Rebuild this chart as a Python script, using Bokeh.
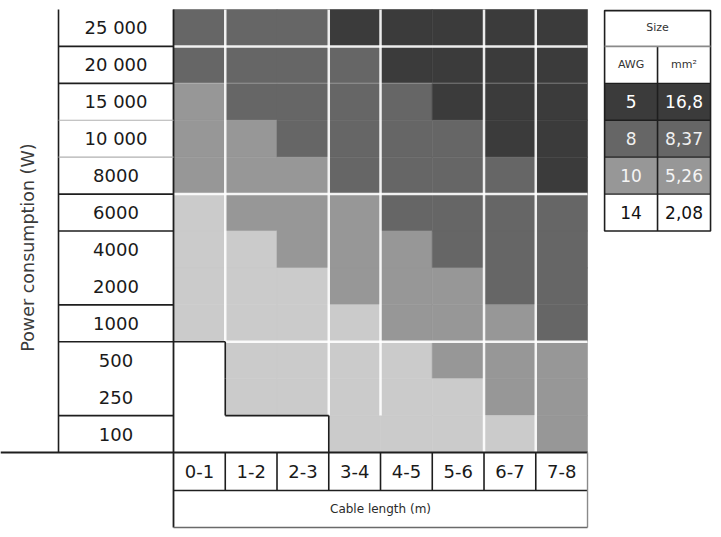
import numpy as np
from bokeh.plotting import figure
from bokeh.models import Range1d, ColumnDataSource
from bokeh.core.properties import value
from bokeh.embed import file_html
from bokeh.resources import INLINE

# ---------------- data ----------------
power_labels = ["25 000", "20 000", "15 000", "10 000", "8000", "6000",
                "4000", "2000", "1000", "500", "250", "100"]
length_labels = ["0-1", "1-2", "2-3", "3-4", "4-5", "5-6", "6-7", "7-8"]
# class per cell: 0 = 5 AWG, 1 = 8 AWG, 2 = 10 AWG, 3 = light grey, 4 = empty
gauge_rows = [
    [1, 1, 1, 0, 0, 0, 0, 0],
    [1, 1, 1, 1, 0, 0, 0, 0],
    [2, 1, 1, 1, 1, 0, 0, 0],
    [2, 2, 1, 1, 1, 1, 0, 0],
    [2, 2, 2, 1, 1, 1, 1, 0],
    [3, 2, 2, 2, 1, 1, 1, 1],
    [3, 3, 2, 2, 2, 1, 1, 1],
    [3, 3, 3, 2, 2, 2, 1, 1],
    [3, 3, 3, 3, 2, 2, 2, 1],
    [4, 3, 3, 3, 3, 2, 2, 2],
    [4, 3, 3, 3, 3, 3, 2, 2],
    [4, 4, 4, 3, 3, 3, 3, 2],
]
legend_awg = ["5", "8", "10", "14"]
legend_mm2 = ["16,8", "8,37", "5,26", "2,08"]
y_title = "Power consumption (W)"
x_title = "Cable length (m)"

# ---------------- styles ----------------
gauge_colors = ["#3b3b3b", "#666666", "#979797", "#cbcbcb", "#ffffff"]
legend_fill = ["#3b3b3b", "#666666", "#979797", "#ffffff"]
legend_text = ["#ffffff", "#f0f0f0", "#f4f4f4", "#111111"]
row_sep = ["dark", "dark", "light", "light", "dark", "dark", "none",
           "dark", "dark", "none", "dark"]
FONT = value("DejaVu Sans")
DARK = "#1e1e1e"

n_rows = len(power_labels)
n_cols = len(length_labels)

X0, X1 = -3.343, 10.473
Y0, Y1 = -2.113, 12.244
p = figure(width=715, height=530, output_backend="svg", toolbar_location=None,
           x_range=Range1d(X0, X1), y_range=Range1d(Y0, Y1),
           min_border=0, outline_line_color=None,
           x_axis_location=None, y_axis_location=None)
p.grid.visible = False
p.background_fill_color = "white"
p.border_fill_color = "white"

# ---------------- cells ----------------
cx, cy, cc = [], [], []
for r, row in enumerate(gauge_rows):
    for c, g in enumerate(row):
        cx.append(c + 0.5)
        cy.append(n_rows - 0.5 - r)
        cc.append(gauge_colors[g])
src = ColumnDataSource(dict(x=cx, y=cy, color=cc))
p.rect(x="x", y="y", width=1, height=1, fill_color="color",
       line_color="color", line_width=0.6, source=src)

# white separator lines inside the grid
vx = [1, 3, 4, 6, 7]
vy0 = [3, 1, 1, 0, 0]
p.segment(x0=vx, y0=vy0, x1=vx, y1=[n_rows] * len(vx),
          line_color="white", line_width=2.5, line_alpha=0.9)
hy = [11, 7, 3]
hx0 = [0, 0, 1]
p.segment(x0=hx0, y0=hy, x1=[n_cols] * len(hy), y1=hy,
          line_color="white", line_width=2.5, line_alpha=0.9)
p.segment(x0=[0], y0=[10], x1=[n_cols], y1=[10],
          line_color="white", line_width=1.5, line_alpha=0.2)

# black outline around the empty cells
sx0, sy0, sx1, sy1 = [], [], [], []
for r, row in enumerate(gauge_rows):
    for c, g in enumerate(row):
        if g != 4:
            continue
        top = n_rows - r
        bot = top - 1
        if r > 0 and gauge_rows[r - 1][c] != 4:
            sx0 += [c]; sy0 += [top]; sx1 += [c + 1]; sy1 += [top]
        if c + 1 < n_cols and row[c + 1] != 4:
            sx0 += [c + 1]; sy0 += [bot]; sx1 += [c + 1]; sy1 += [top]
p.segment(x0=sx0, y0=sy0, x1=sx1, y1=sy1, line_color=DARK, line_width=1.6)

# ---------------- row label column ----------------
lab_left = -2.222
p.segment(x0=[lab_left], y0=[0], x1=[lab_left], y1=[n_rows],
          line_color=DARK, line_width=1.6)
p.segment(x0=[0], y0=[-2.03], x1=[0], y1=[n_rows],
          line_color=DARK, line_width=1.8)
p.segment(x0=[X0], y0=[0], x1=[n_cols], y1=[0],
          line_color=DARK, line_width=1.8)
dy, ly = [], []
for i, s in enumerate(row_sep):
    yb = n_rows - 1 - i
    if s == "dark":
        dy.append(yb)
    elif s == "light":
        ly.append(yb)
p.segment(x0=[lab_left] * len(dy), y0=dy, x1=[0] * len(dy), y1=dy,
          line_color=DARK, line_width=1.6)
p.segment(x0=[lab_left] * len(ly), y0=ly, x1=[0] * len(ly), y1=ly,
          line_color="#b0b0b0", line_width=1.2)
p.text(x=[lab_left / 2] * n_rows, y=[n_rows - 0.5 - i for i in range(n_rows)],
       text=power_labels, text_font=FONT, text_font_size="18px",
       text_color="#1a1a1a", text_align="center", text_baseline="middle")

p.text(x=[-2.82], y=[5.55], text=[y_title], angle=np.pi / 2,
       text_font=FONT, text_font_size="17.5px", text_color="#3a3a3a",
       text_align="center", text_baseline="middle")

# ---------------- column label boxes ----------------
lab_bot = -1.03
box_bot = -2.03
bx = list(range(1, n_cols))
p.segment(x0=bx, y0=[lab_bot] * len(bx), x1=bx, y1=[0] * len(bx),
          line_color=DARK, line_width=1.6)
p.segment(x0=[0], y0=[lab_bot], x1=[n_cols], y1=[lab_bot],
          line_color=DARK, line_width=1.6)
p.segment(x0=[n_cols], y0=[box_bot], x1=[n_cols], y1=[0],
          line_color="#8a8a8a", line_width=1.4)
p.segment(x0=[0], y0=[box_bot], x1=[n_cols], y1=[box_bot],
          line_color="#6a6a6a", line_width=1.4)
p.text(x=[c + 0.5 for c in range(n_cols)], y=[lab_bot / 2] * n_cols,
       text=length_labels, text_font=FONT, text_font_size="18px",
       text_color="#1a1a1a", text_align="center", text_baseline="middle")
p.text(x=[n_cols / 2], y=[(lab_bot + box_bot) / 2], text=[x_title],
       text_font=FONT, text_font_size="12px", text_color="#2a2a2a",
       text_align="center", text_baseline="middle")

# ---------------- legend table ----------------
L0, L1, L2 = 8.33, 9.353, 10.377
top = 11.97
k = len(legend_awg)
ly_c = [9.5 - j for j in range(k)]
p.quad(left=[L0] * k, right=[L1] * k, bottom=[y - 0.5 for y in ly_c],
       top=[y + 0.5 for y in ly_c], fill_color=legend_fill, line_color=None)
p.quad(left=[L1] * k, right=[L2] * k, bottom=[y - 0.5 for y in ly_c],
       top=[y + 0.5 for y in ly_c], fill_color=legend_fill, line_color=None)
leg_bot = ly_c[-1] - 0.5
p.quad(left=[L0], right=[L2], bottom=[leg_bot], top=[top],
       fill_color=None, line_color=DARK, line_width=1.6)
p.segment(x0=[L1], y0=[leg_bot], x1=[L1], y1=[11],
          line_color=DARK, line_width=1.6)
p.segment(x0=[L0], y0=[11], x1=[L2], y1=[11],
          line_color="#8a8a8a", line_width=1.6)
ry = [10, 9, 8, 7]
p.segment(x0=[L0] * len(ry), y0=ry, x1=[L2] * len(ry), y1=ry,
          line_color=DARK, line_width=1.4)
p.text(x=[(L0 + L2) / 2], y=[11.5], text=["Size"], text_font=FONT,
       text_font_size="11px", text_color="#333333", text_align="center",
       text_baseline="middle")
p.text(x=[(L0 + L1) / 2, (L1 + L2) / 2], y=[10.5, 10.5], text=["AWG", "mm²"],
       text_font=FONT, text_font_size="11px", text_color="#333333",
       text_align="center", text_baseline="middle")
p.text(x=[(L0 + L1) / 2] * k, y=ly_c, text=legend_awg, text_font=FONT,
       text_font_size="17px", text_color=legend_text, text_align="center",
       text_baseline="middle")
p.text(x=[(L1 + L2) / 2] * k, y=ly_c, text=legend_mm2, text_font=FONT,
       text_font_size="17px", text_color=legend_text, text_align="center",
       text_baseline="middle")

open("out.html", "w").write(file_html(p, INLINE))
